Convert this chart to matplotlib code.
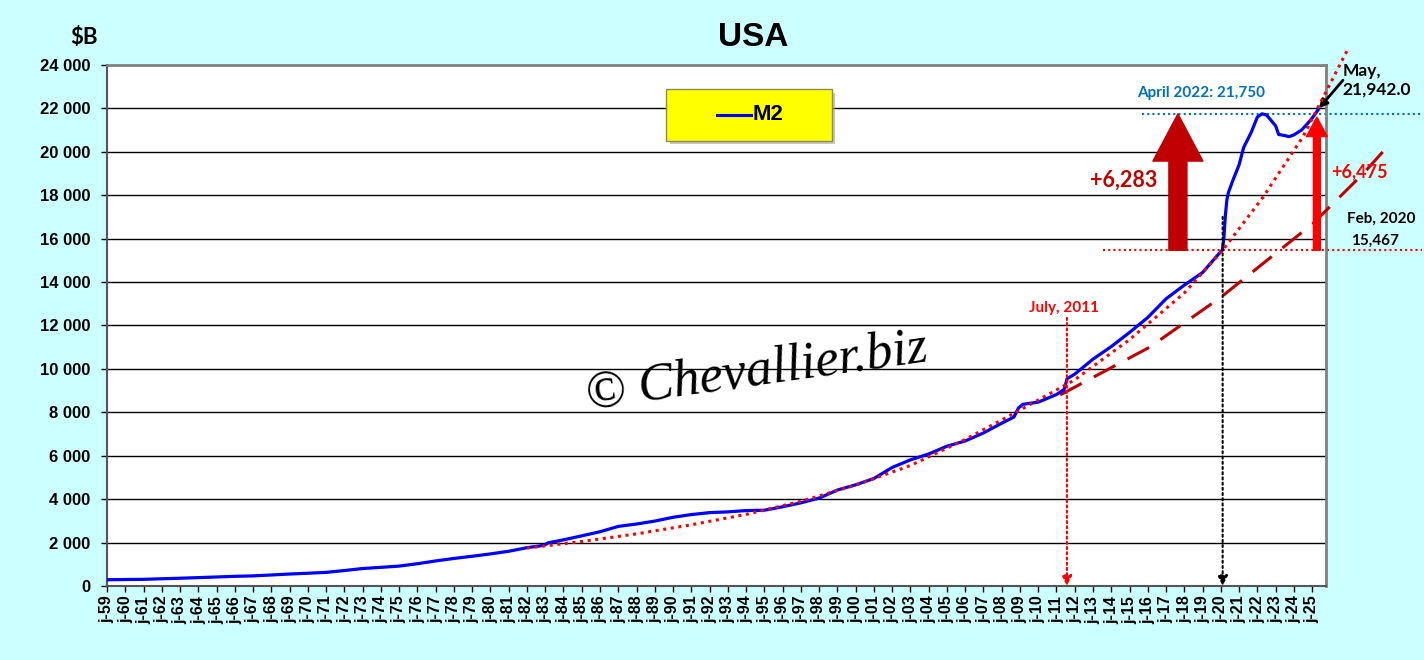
import matplotlib
matplotlib.use('Agg')
import matplotlib.pyplot as plt
from matplotlib.patches import FancyBboxPatch

# M2 money stock, $B
m2_dates = ['1959-01', '1960-01', '1961-01', '1962-01', '1963-01', '1964-01', '1965-01',
            '1966-01', '1967-01', '1968-01', '1969-01', '1970-01', '1971-01', '1972-01',
            '1973-01', '1974-01', '1975-01', '1976-01', '1977-01', '1978-01', '1979-01',
            '1980-01', '1981-01', '1982-01', '1982-12', '1983-03', '1984-01', '1985-01',
            '1986-01', '1987-01', '1988-01', '1989-01', '1990-01', '1991-01', '1992-01',
            '1993-01', '1994-01', '1995-01', '1996-01', '1997-01', '1998-01', '1999-01',
            '2000-01', '2001-01', '2002-01', '2003-01', '2004-01', '2005-01', '2006-01',
            '2007-01', '2008-01', '2008-09', '2008-12', '2009-03', '2010-01', '2011-01',
            '2011-06', '2011-08', '2012-01', '2013-01', '2014-01', '2015-01', '2016-01',
            '2017-01', '2018-01', '2019-01', '2020-01', '2020-02', '2020-03', '2020-04',
            '2020-05', '2020-06', '2020-09', '2021-01', '2021-04', '2021-09', '2022-01',
            '2022-04', '2022-07', '2022-10', '2023-01', '2023-03', '2023-07', '2023-10',
            '2024-01', '2024-06', '2024-10', '2025-01', '2025-05']
m2_values = [287, 299, 307, 333, 358, 386, 415,
             446, 466, 508, 552, 588, 628, 712,
             805, 860, 917, 1026, 1155, 1269, 1370,
             1478, 1600, 1765, 1870, 1990, 2126, 2310,
             2500, 2745, 2855, 2990, 3165, 3290, 3380,
             3415, 3475, 3490, 3650, 3830, 4050, 4420,
             4660, 4950, 5460, 5810, 6080, 6440, 6680,
             7050, 7500, 7780, 8200, 8370, 8470, 8820,
             9050, 9550, 9760, 10450, 11030, 11680, 12370,
             13230, 13860, 14440, 15410, 15467, 16020, 17080,
             17800, 18130, 18700, 19400, 20200, 20900, 21600,
             21750, 21700, 21450, 21200, 20800, 20750, 20700,
             20780, 21000, 21300, 21550, 21942]

# trend curves
trend_years = [1982.0, 1985.0, 1988.0, 1991.0, 1994.0, 1997.0, 2000.0, 2003.0, 2006.0,
               2009.0, 2012.0, 2015.0, 2018.0, 2020.1, 2022.3, 2024.5, 2027.0]
trend_values = [1750, 2050, 2400, 2820, 3300, 3900, 4650, 5550, 6750,
                8100, 9500, 11350, 13500, 15467, 17900, 20700, 24800]
trend2_years = [2011.2, 2016.1, 2020.0, 2025.05, 2027.8, 2029.3]
trend2_values = [8800, 11000, 13300, 16700, 19000, 20400]

feb2020 = 15467
apr2022 = 21750
may_last = 21942

def dec_year(s):
    y, m = s.split('-')
    return int(y) + (int(m) - 1) / 12.0

m2_x = [dec_year(d) for d in m2_dates]
tick_years = list(range(1959, 2026))
tick_labels = ['j-%02d' % (y % 100) for y in tick_years]

plt.rcParams['font.family'] = ['Liberation Sans', 'DejaVu Sans']
BG = '#CCFFFF'

fig = plt.figure(figsize=(14.24, 6.60), dpi=100, facecolor=BG)
ax = fig.add_axes([107/1424, 74/660, 1219/1424, 521/660])
ax.set_facecolor('white')

ax.set_xlim(1959.0, 2025.76)
ax.set_ylim(0, 24000)
ax.set_yticks(range(0, 24001, 2000))
ax.set_yticklabels([('%d' % v) if v < 1000 else '%d %03d' % (v // 1000, v % 1000)
                    for v in range(0, 24001, 2000)], fontsize=12, fontweight='bold')
ax.set_xticks(tick_years)
ax.set_xticklabels(tick_labels, rotation=90, fontsize=11.5, fontweight='bold')
ax.tick_params(axis='both', length=4, width=1, direction='out')
ax.tick_params(axis='y', pad=8)
ax.tick_params(axis='x', pad=3)
ax.grid(axis='y', color='black', lw=1.0)
ax.set_axisbelow(True)
for side in ['top', 'right']:
    ax.spines[side].set_color('#808080')
    ax.spines[side].set_linewidth(2)
for side in ['left', 'bottom']:
    ax.spines[side].set_color('#555555')
    ax.spines[side].set_linewidth(1.5)

# trend lines
ax.plot(trend_years, trend_values, color='#FF0000', lw=2.2, ls=(0, (1, 1.5)),
        clip_on=False, zorder=4)
ax.plot(trend2_years, trend2_values, color='#C00000', lw=2.2, ls=(0, (8, 4.5)),
        clip_on=False, zorder=3)

# M2
ax.plot(m2_x, m2_values, color='#0000FF', lw=2.3, zorder=3)

# horizontal reference lines
ax.plot([2015.7, 2031], [apr2022, apr2022], color='#0070C0', lw=1.5, ls=(0, (1, 1.5)),
        clip_on=False, zorder=2)
ax.plot([2013.55, 2031], [feb2020, feb2020], color='#FF0000', lw=1.5, ls=(0, (1, 1.5)),
        clip_on=False, zorder=2)

# vertical pointers
ax.annotate('', xy=(2011.57, 0), xytext=(2011.57, 12350),
            arrowprops=dict(arrowstyle='-|>,head_length=0.6,head_width=0.3', color='#FF0000',
                            lw=1.5, ls=(0, (1, 1.5)), shrinkA=0, shrinkB=0))
ax.annotate('', xy=(2020.1, 0), xytext=(2020.1, 17000),
            arrowprops=dict(arrowstyle='-|>,head_length=0.6,head_width=0.3', color='black',
                            lw=1.5, ls=(0, (1, 1.5)), shrinkA=0, shrinkB=0))

# big arrows
ax.annotate('', xy=(2017.65, apr2022), xytext=(2017.65, feb2020),
            arrowprops=dict(arrowstyle='simple,head_length=34,head_width=36,tail_width=13',
                            mutation_scale=1, color='#C00000', shrinkA=0, shrinkB=0))
ax.annotate('', xy=(2025.26, 21600), xytext=(2025.26, feb2020), annotation_clip=False,
            arrowprops=dict(arrowstyle='simple,head_length=14,head_width=15,tail_width=5',
                            mutation_scale=1, color='#FF0000', shrinkA=0, shrinkB=0))
ax.annotate('', xy=(2025.37, 22000), xytext=(2026.69, 23300), annotation_clip=False,
            arrowprops=dict(arrowstyle='-|>,head_length=0.5,head_width=0.25', color='black',
                            lw=2, shrinkA=0, shrinkB=0))

# texts
lbl = ['Lato', 'DejaVu Sans']
ax.text(2014.7, 18700, '+6,283', color='#C00000', fontsize=15.5, fontweight='bold',
        family=lbl, ha='center', va='center')
ax.text(2027.6, 19100, '+6,475', color='#FF0000', fontsize=13, fontweight='bold',
        family=lbl, ha='center', va='center', clip_on=False)
ax.text(2015.4, 22700, 'April 2022: 21,750', color='#0070C0', fontsize=11,
        fontweight='bold', family=lbl, ha='left', va='center', clip_on=False)
ax.text(2026.65, 23300, 'May,\n21,942.0', color='black', fontsize=12.5, fontweight='bold',
        family=lbl, ha='left', va='center', linespacing=1.2, clip_on=False)
ax.text(2026.9, 16900, 'Feb, 2020', color='black', fontsize=11, fontweight='bold',
        family=lbl, ha='left', va='center', clip_on=False)
ax.text(2027.15, 15900, '15,467', color='black', fontsize=11, fontweight='bold',
        family=lbl, ha='left', va='center', clip_on=False)
ax.text(2011.4, 12800, 'July, 2011', color='#FF0000', fontsize=11, fontweight='bold',
        family=lbl, ha='center', va='center')

# watermark
ax.text(0.533, 0.41, '\u00a9 Chevallier.biz', transform=ax.transAxes, fontsize=38,
        family=['Liberation Serif', 'DejaVu Serif'], style='italic', rotation=8,
        ha='center', va='center', color='black', zorder=5)

# legend box
shadow = FancyBboxPatch((670/1424, (660-144)/660), 165/1424, 51/660,
                        boxstyle='square,pad=0', transform=fig.transFigure,
                        facecolor='#A0A0A0', edgecolor='none', alpha=0.6, zorder=5)
box = FancyBboxPatch((666/1424, (660-141)/660), 166/1424, 52/660,
                     boxstyle='square,pad=0', transform=fig.transFigure,
                     facecolor='#FFFF00', edgecolor='#8C8C50', lw=1, zorder=6)
fig.patches.extend([shadow, box])
fig.lines.append(plt.Line2D([717/1424, 751/1424], [(660-115)/660, (660-115)/660],
                            transform=fig.transFigure, color='#0000FF', lw=2.2, zorder=7))
fig.text(753/1424, (660-115)/660, 'M2', fontsize=16, fontweight='bold',
         ha='left', va='center', zorder=7)

# titles
fig.text(753/1424, (660-38)/660, 'USA', fontsize=24, fontweight='bold',
         ha='center', va='center')
fig.text(84/1424, (660-38)/660, '$B', fontsize=16, fontweight='bold',
         family=lbl, ha='center', va='center')

fig.savefig('out.png', dpi=100, facecolor=BG)
